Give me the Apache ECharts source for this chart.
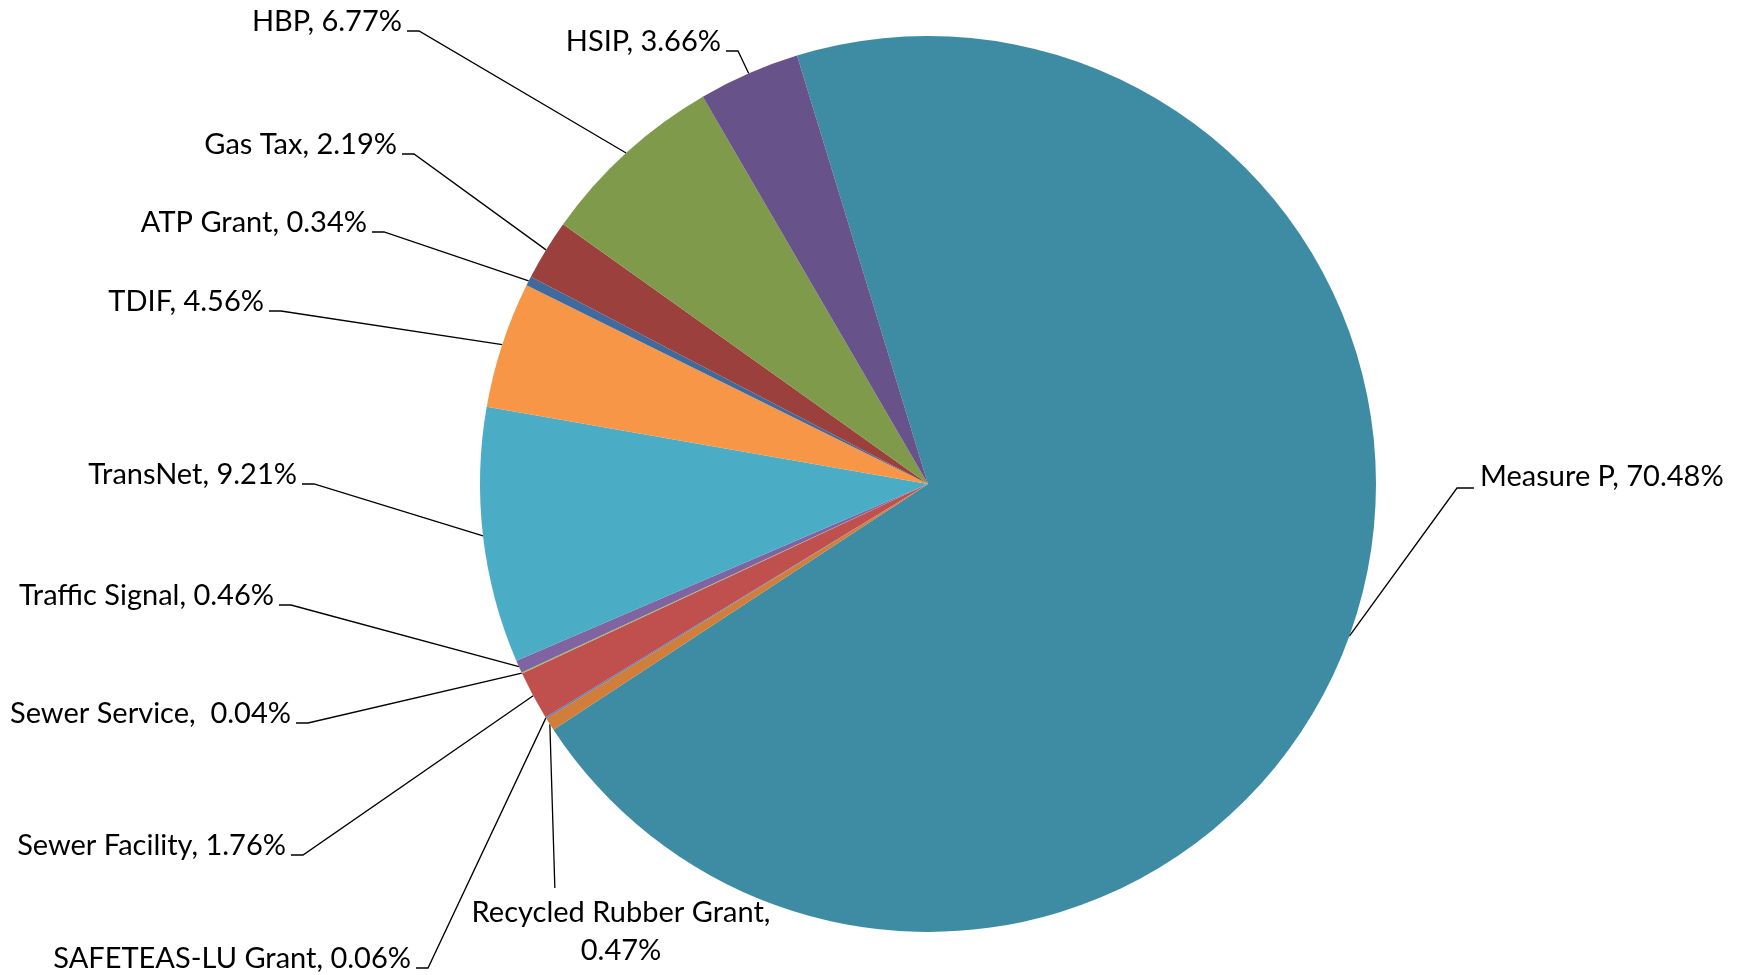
<!DOCTYPE html>
<html>
<head>
<meta charset="utf-8">
<style>
  html, body { margin: 0; padding: 0; background: #fff; }
  #chart { width: 1740px; height: 975px; }
</style>
<script src="https://cdn.jsdelivr.net/npm/echarts@6/dist/echarts.min.js"></script>
</head>
<body>
<div id="chart"></div>
<script>
// funding sources, clockwise from the top of the pie
var sources = ['Measure P', 'Recycled Rubber Grant', 'SAFETEAS-LU Grant', 'Sewer Facility', 'Sewer Service',
  'Traffic Signal', 'TransNet', 'TDIF', 'ATP Grant', 'Gas Tax', 'HBP', 'HSIP'];
var shares = [70.48, 0.47, 0.06, 1.76, 0.04, 0.46, 9.21, 4.56, 0.34, 2.19, 6.77, 3.66];

var colors = ['#3D8CA4', '#D07E3A', '#4F81BD', '#C0504D', '#9BBB59', '#8064A2',
  '#4BACC6', '#F79646', '#3F6A9E', '#9C403E', '#7F9A4A', '#68528A'];

// where each label sits: [x, y (middle of text), align]
var labelAnchors = [
  [1480, 477, 'left'],
  [621, 932, 'center'],
  [411, 959, 'right'],
  [286, 846, 'right'],
  [291, 714, 'right'],
  [274, 596, 'right'],
  [297, 475, 'right'],
  [264, 302, 'right'],
  [367, 223, 'right'],
  [397, 145, 'right'],
  [402, 22, 'right'],
  [721, 42, 'right']
];
// labels that differ from the usual "name, value" text
var separators = { 'Recycled Rubber Grant': ',\n', 'Sewer Service': ',  ' };

var chart = echarts.init(document.getElementById('chart'));

var option = {
  backgroundColor: '#ffffff',
  animation: false,
  color: colors,
  series: [{
    type: 'pie',
    center: [928, 484],
    radius: 448,
    startAngle: 107,
    clockwise: true,
    avoidLabelOverlap: false,
    itemStyle: { borderWidth: 0 },
    label: {
      show: true,
      position: 'outside',
      color: '#000',
      fontFamily: 'Lato',
      fontSize: 29,
      lineHeight: 38,
      formatter: function (p) {
        var sep = separators[p.name] || ', ';
        return p.name + sep + p.value.toFixed(2) + '%';
      }
    },
    labelLine: {
      show: true,
      lineStyle: { color: '#000', width: 1.3 }
    },
    labelLayout: function (params) {
      var a = labelAnchors[params.dataIndex];
      var p0 = params.labelLinePoints[0];
      var pts;
      if (a[2] === 'right') {
        pts = [p0, [a[0] + 17, a[1] + 9], [a[0] + 5, a[1] + 9]];
      } else if (a[2] === 'left') {
        pts = [p0, [a[0] - 23, a[1] + 11], [a[0] - 6, a[1] + 11]];
      } else {
        pts = [p0, [p0[0] + 5, a[1] - 44], [p0[0] + 5, a[1] - 44]];
      }
      return {
        x: a[0],
        y: a[1],
        align: a[2],
        verticalAlign: 'middle',
        labelLinePoints: pts
      };
    },
    data: sources.map(function (s, i) {
      return { name: s, value: shares[i] };
    })
  }]
};

chart.setOption(option);
</script>
</body>
</html>
